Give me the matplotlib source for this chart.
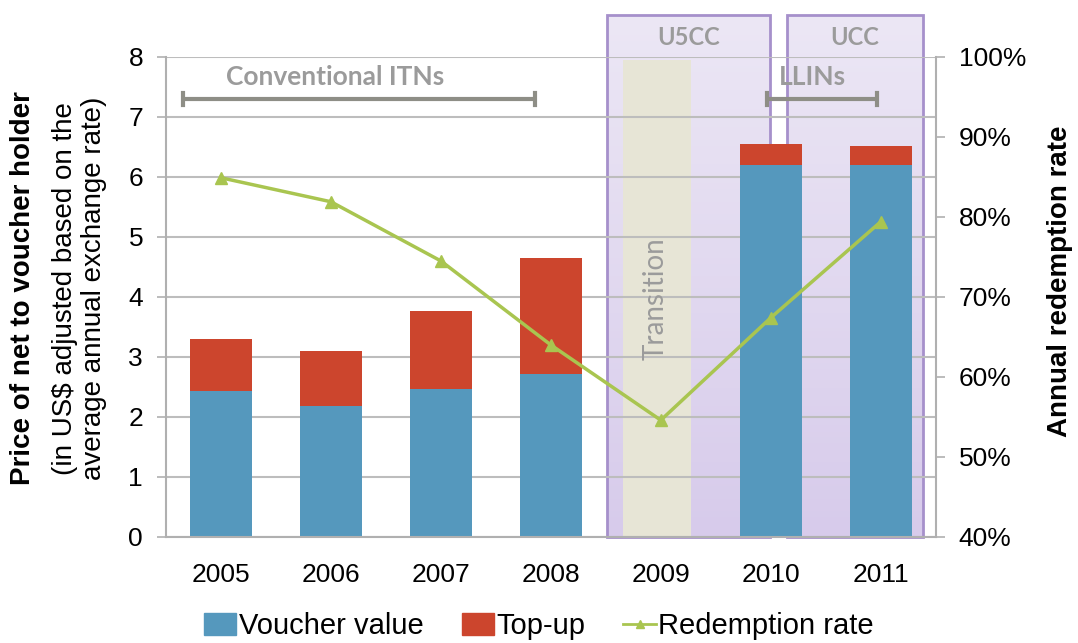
import numpy as np
import matplotlib
matplotlib.use("Agg")
import matplotlib.pyplot as plt
from matplotlib.patches import Rectangle, Patch
from matplotlib.lines import Line2D
from matplotlib.ticker import FuncFormatter
from matplotlib.colors import LinearSegmentedColormap

# Data
years = ["2005", "2006", "2007", "2008", "2009", "2010", "2011"]
voucher = [2.43, 2.19, 2.47, 2.72, 0, 6.20, 6.20]
topup = [0.87, 0.91, 1.29, 1.93, 0, 0.35, 0.32]
redemption = [84.9, 81.9, 74.5, 64.0, 54.6, 67.4, 79.4]

BLUE = "#5598bd"
RED = "#cc452d"
GREEN = "#a9c550"
GRAY_TXT = "#9b9b9b"
BRACKET = "#8e8e86"
PURPLE_EDGE = "#a690cb"
CALIBRI_LIKE = ["Lato", "DejaVu Sans"]

plt.rcParams["font.family"] = ["Liberation Sans", "DejaVu Sans"]

fig = plt.figure(figsize=(10.78, 6.43), dpi=100)
ax = fig.add_axes([0.154, 0.1649, 0.714, 0.7465])
x = np.arange(len(years))

# Bars
ax.bar(x, voucher, width=0.56, color=BLUE, zorder=2)
ax.bar(x, topup, width=0.56, bottom=voucher, color=RED, zorder=2)

ax.set_yticks(range(0, 9))
ax.set_xticks(x)
ax.set_xticklabels(years)
ax.grid(axis="y", color="#bdbdbd", lw=1.5)
ax.yaxis.set_zorder(0.5)
ax.xaxis.set_zorder(0.5)
ax.tick_params(axis="y", length=6.5, width=1.2, color="#b0b0b0", labelsize=19, pad=10)
ax.tick_params(axis="x", length=0, labelsize=19, pad=19)
for s in ["top", "right"]:
    ax.spines[s].set_visible(False)
for s in ["left", "bottom"]:
    ax.spines[s].set_color("#b0b0b0")
    ax.spines[s].set_linewidth(1.5)

# Campaign boxes (U5CC / UCC) with lavender gradient
grad = np.linspace(0, 1, 256).reshape(-1, 1)
lav = LinearSegmentedColormap.from_list("lav", ["#ece7f5", "#d7cbeb"])
boxes = [(3.51, 4.99, "U5CC"), (5.15, 6.38, "UCC")]
for x0, x1, name in boxes:
    ax.imshow(grad, cmap=lav, aspect="auto", extent=[x0, x1, 0, 8.7],
              zorder=0.1, clip_on=False)
    ax.add_patch(Rectangle((x0, 0), x1 - x0, 8.7, fill=False, ec=PURPLE_EDGE, lw=2,
                           zorder=0.3, clip_on=False))
    ax.text((x0 + x1) / 2, 8.33, name, ha="center", va="center", fontsize=17,
            fontweight="bold", color=GRAY_TXT, family=CALIBRI_LIKE)
ax.set_xlim(-0.5, 6.5)
ax.set_ylim(0, 8)

# Transition band
ax.add_patch(Rectangle((3.66, 0), 0.61, 7.95, color="#e7e5d6", zorder=0.2, lw=0))
ax.text(3.95, 3.97, "Transition", rotation=90, ha="center", va="center", fontsize=20,
        color=GRAY_TXT, family=CALIBRI_LIKE)

# Brackets for net types
brackets = [(-0.345, 2.86, "Conventional ITNs", 1.04), (4.97, 5.97, "LLINs", 5.38)]
for b0, b1, label, tx in brackets:
    ax.plot([b0, b1], [7.3, 7.3], color=BRACKET, lw=3, zorder=3, solid_capstyle="butt")
    for bx in (b0, b1):
        ax.plot([bx, bx], [7.2, 7.4], color=BRACKET, lw=3, zorder=3)
    ax.text(tx, 7.66, label, ha="center", va="center", fontsize=19, fontweight="bold",
            color=GRAY_TXT, family=CALIBRI_LIKE, zorder=3)

# Redemption rate on right axis
ax2 = ax.twinx()
ax2.plot(x, redemption, color=GREEN, lw=2.5, marker="^", markersize=8, zorder=4)
ax2.set_ylim(40, 100)
ax2.set_yticks(range(40, 101, 10))
ax2.yaxis.set_major_formatter(FuncFormatter(lambda v, p: f"{v:.0f}%"))
ax2.tick_params(axis="y", length=6.5, width=1.2, color="#b0b0b0", labelsize=19, pad=10)
for s in ["top", "left", "bottom"]:
    ax2.spines[s].set_visible(False)
ax2.spines["right"].set_color("#b0b0b0")
ax2.spines["right"].set_linewidth(1.5)

fig.text(0.983, 0.563, "Annual redemption rate", rotation=90, ha="center",
         va="center", fontsize=20, fontweight="bold")

# Left axis label (bold first line, plain second part)
fig.text(0.021, 0.552, "Price of net to voucher holder", rotation=90, ha="center",
         va="center", fontsize=20, fontweight="bold")
fig.text(0.074, 0.552, "(in US$ adjusted based on the\naverage annual exchange rate)",
         rotation=90, ha="center", va="center", fontsize=20, linespacing=1.15)

# Legend
handles = [Patch(color=BLUE, label="Voucher value"),
           Patch(color=RED, label="Top-up"),
           Line2D([], [], color=GREEN, lw=2, marker="^", markersize=6, label="Redemption rate")]
fig.legend(handles=handles, loc="center", bbox_to_anchor=(0.5, 0.026), ncol=3,
           frameon=False, fontsize=21, handlelength=1.1, handleheight=0.8,
           handletextpad=0.1, columnspacing=1.3, borderpad=0)

fig.savefig("out.png", dpi=100)
